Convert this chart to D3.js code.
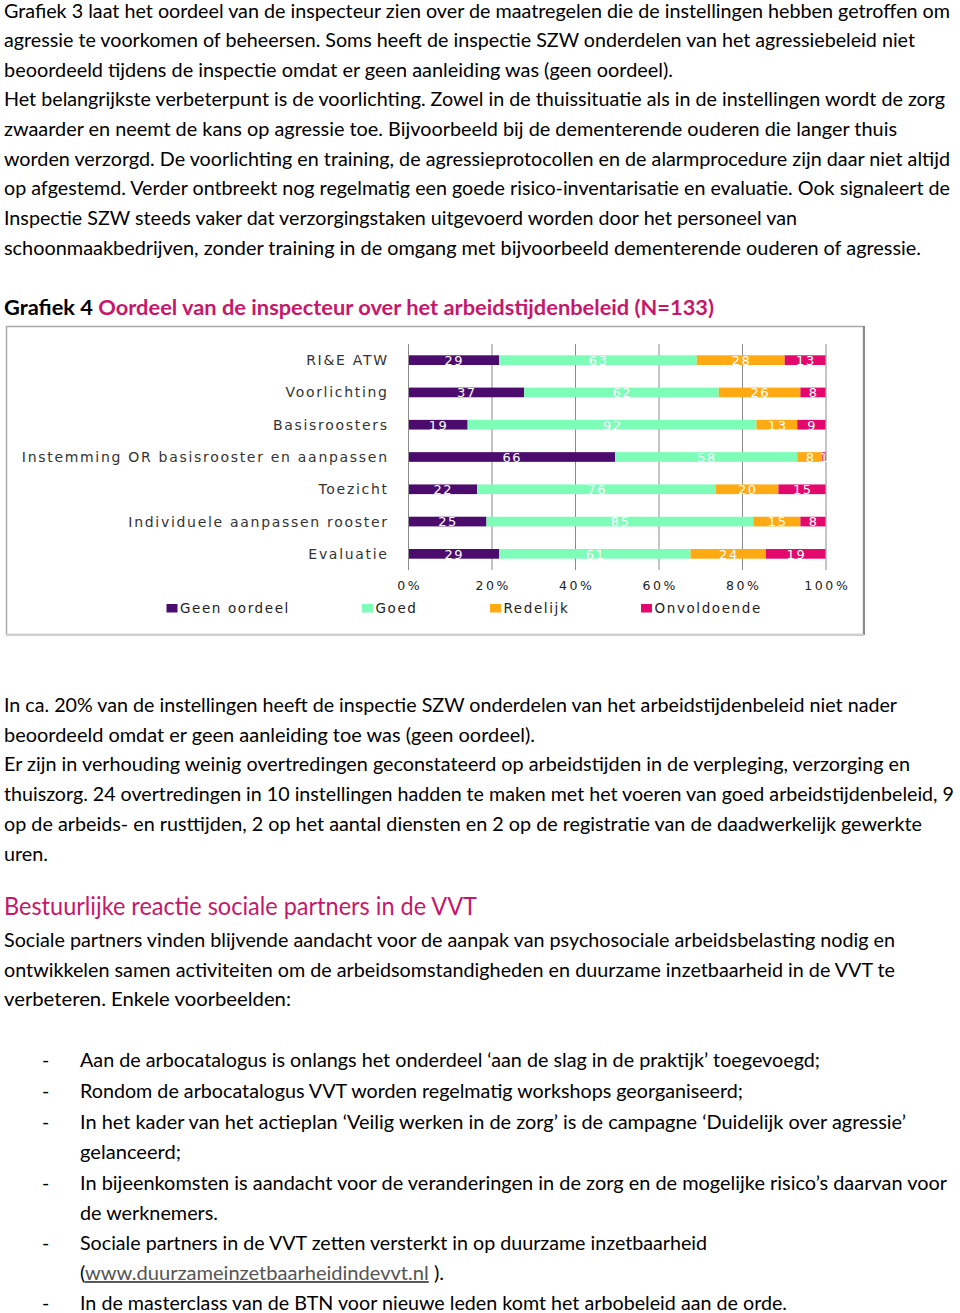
<!DOCTYPE html>
<html>
<head>
<meta charset="utf-8">
<script src="https://cdn.jsdelivr.net/npm/d3@7"></script>
<style>
  html, body { margin: 0; padding: 0; background: #fff; }
  svg { display: block; }
</style>
</head>
<body>
<script>
// ---------------- Chart data ----------------
const categories = [
  "RI&E ATW",
  "Voorlichting",
  "Basisroosters",
  "Instemming OR basisrooster en aanpassen",
  "Toezicht",
  "Individuele aanpassen rooster",
  "Evaluatie"
];
const seriesNames = ["Geen oordeel", "Goed", "Redelijk", "Onvoldoende"];
const geenOordeel = [29, 37, 19, 66, 22, 25, 29];
const goed        = [63, 62, 92, 58, 76, 85, 61];
const redelijk    = [28, 26, 13, 8, 20, 15, 24];
const onvoldoende = [13, 8, 9, 1, 15, 8, 19];
const tickValues  = [0, 0.2, 0.4, 0.6, 0.8, 1];

// ---------------- Document text ----------------
const para1 = [
  "Grafiek 3 laat het oordeel van de inspecteur zien over de maatregelen die de instellingen hebben getroffen om",
  "agressie te voorkomen of beheersen. Soms heeft de inspectie SZW onderdelen van het agressiebeleid niet",
  "beoordeeld tijdens de inspectie omdat er geen aanleiding was (geen oordeel).",
  "Het belangrijkste verbeterpunt is de voorlichting. Zowel in de thuissituatie als in de instellingen wordt de zorg",
  "zwaarder en neemt de kans op agressie toe. Bijvoorbeeld bij de dementerende ouderen die langer thuis",
  "worden verzorgd. De voorlichting en training, de agressieprotocollen en de alarmprocedure zijn daar niet altijd",
  "op afgestemd. Verder ontbreekt nog regelmatig een goede risico-inventarisatie en evaluatie. Ook signaleert de",
  "Inspectie SZW steeds vaker dat verzorgingstaken uitgevoerd worden door het personeel van",
  "schoonmaakbedrijven, zonder training in de omgang met bijvoorbeeld dementerende ouderen of agressie."
];
const titlePrefix = "Grafiek 4 ";
const titleText = "Oordeel van de inspecteur over het arbeidstijdenbeleid (N=133)";
const para2 = [
  "In ca. 20% van de instellingen heeft de inspectie SZW onderdelen van het arbeidstijdenbeleid niet nader",
  "beoordeeld omdat er geen aanleiding toe was (geen oordeel).",
  "Er zijn in verhouding weinig overtredingen geconstateerd op arbeidstijden in de verpleging, verzorging en",
  "thuiszorg. 24 overtredingen in 10 instellingen hadden te maken met het voeren van goed arbeidstijdenbeleid, 9",
  "op de arbeids- en rusttijden, 2 op het aantal diensten en 2 op de registratie van de daadwerkelijk gewerkte",
  "uren."
];
const heading = "Bestuurlijke reactie sociale partners in de VVT";
const para3 = [
  "Sociale partners vinden blijvende aandacht voor de aanpak van psychosociale arbeidsbelasting nodig en",
  "ontwikkelen samen activiteiten om de arbeidsomstandigheden en duurzame inzetbaarheid in de VVT te",
  "verbeteren.  Enkele voorbeelden:"
];
// list lines: [bullet?, text]
const listLines = [
  [true,  "Aan de arbocatalogus is onlangs het onderdeel ‘aan de slag in de praktijk’ toegevoegd;"],
  [true,  "Rondom de arbocatalogus VVT worden regelmatig workshops georganiseerd;"],
  [true,  "In het kader van het actieplan ‘Veilig werken in de zorg’ is de campagne  ‘Duidelijk over agressie’"],
  [false, "gelanceerd;"],
  [true,  "In bijeenkomsten is aandacht voor de veranderingen in de zorg en de mogelijke risico’s  daarvan voor"],
  [false, "de werknemers."],
  [true,  "Sociale partners in de VVT zetten versterkt in op duurzame inzetbaarheid"],
  [false, "LINK"],
  [true,  "In de masterclass van de BTN voor nieuwe leden komt het arbobeleid aan de orde."]
];
const linkText = "www.duurzameinzetbaarheidindevvt.nl";

// ---------------- Layout (positions / sizes) ----------------
const para1Ends = [950, 915, 673, 945, 897, 950, 950, 797, 921];
const para2Ends = [897, 535, 910, 954, 922, 48];
const para3Ends = [895, 895, 291];
const listEnds  = [820, 743, 906, 181, 947, 218, 707, 444, 787];

const bodyFont = "Lato, 'Open Sans', sans-serif";
const magenta = "#c8176b";

const svg = d3.select("body").append("svg")
  .attr("width", 960).attr("height", 1313)
  .attr("viewBox", "0 0 960 1313");

function textBlock(lines, ends, x0, y0, dy) {
  svg.append("g").selectAll("text").data(lines).join("text")
    .attr("x", x0)
    .attr("y", (d, i) => y0 + i * dy)
    .attr("font-family", bodyFont)
    .attr("font-size", 19.5)
    .attr("fill", "#000")
    .attr("textLength", (d, i) => ends[i] - x0)
    .attr("lengthAdjust", "spacingAndGlyphs")
    .text(d => d);
}

textBlock(para1, para1Ends, 4, 17.5, 29.65);

// Title
const title = svg.append("text")
  .attr("x", 4).attr("y", 315)
  .attr("font-family", bodyFont).attr("font-size", 21).attr("font-weight", 700)
  .attr("textLength", 710).attr("lengthAdjust", "spacingAndGlyphs");
title.append("tspan").attr("fill", "#000").text(titlePrefix);
title.append("tspan").attr("fill", magenta).text(titleText);

textBlock(para2, para2Ends, 4, 712, 29.7);

svg.append("text")
  .attr("x", 4).attr("y", 915)
  .attr("font-family", bodyFont).attr("font-size", 25)
  .attr("fill", magenta)
  .attr("textLength", 473).attr("lengthAdjust", "spacingAndGlyphs")
  .text(heading);

textBlock(para3, para3Ends, 4, 947, 29.7);

// list
const listY = [1067, 1098, 1129, 1159, 1190, 1220, 1250, 1280, 1310];
const lg = svg.append("g");
listLines.forEach((l, i) => {
  if (l[0]) {
    lg.append("text").attr("x", 42).attr("y", listY[i])
      .attr("font-family", bodyFont).attr("font-size", 19.5).attr("fill", "#000")
      .text("-");
  }
  const t = lg.append("text").attr("x", 80).attr("y", listY[i])
    .attr("font-family", bodyFont).attr("font-size", 19.5).attr("fill", "#000")
    .attr("textLength", listEnds[i] - 80).attr("lengthAdjust", "spacingAndGlyphs");
  if (l[1] === "LINK") {
    t.append("tspan").text("(");
    t.append("tspan").attr("fill", "#555").attr("text-decoration", "underline").text(linkText);
    t.append("tspan").text(" ).");
  } else {
    t.text(l[1]);
  }
});

// ---------------- Chart ----------------
const frame = { x: 6, y: 326, w: 857, h: 308 };
svg.append("rect")
  .attr("x", frame.x + 0.5).attr("y", frame.y + 0.5)
  .attr("width", frame.w).attr("height", frame.h)
  .attr("fill", "#fff").attr("stroke", "#a8a8a8").attr("stroke-width", 1.5);
svg.append("line")
  .attr("x1", frame.x + frame.w + 1).attr("x2", frame.x + frame.w + 1)
  .attr("y1", frame.y).attr("y2", frame.y + frame.h + 1)
  .attr("stroke", "#8a8a8a").attr("stroke-width", 2);
svg.append("line")
  .attr("x1", frame.x).attr("x2", frame.x + frame.w + 1)
  .attr("y1", frame.y + frame.h + 1).attr("y2", frame.y + frame.h + 1)
  .attr("stroke", "#cfcfcf").attr("stroke-width", 2);

const plot = { left: 408, right: 825.5, top: 344, bottom: 570 };
const x = d3.scaleLinear().domain([0, 1]).range([plot.left, plot.right]);
const y = d3.scaleBand().domain(categories).range([plot.top, plot.bottom])
  .paddingInner(0.7).paddingOuter(0.35);

const colors = d3.scaleOrdinal().domain(seriesNames)
  .range(["#4b0c6e", "#7dfdb8", "#ffa913", "#e2086c"]);

const rows = categories.map((c, i) => ({
  cat: c,
  "Geen oordeel": geenOordeel[i],
  "Goed": goed[i],
  "Redelijk": redelijk[i],
  "Onvoldoende": onvoldoende[i]
}));
const stacked = d3.stack().keys(seriesNames).offset(d3.stackOffsetExpand)(rows);

// gridlines
svg.append("g")
  .attr("transform", `translate(0,${plot.bottom})`)
  .call(d3.axisBottom(x).tickValues(tickValues).tickSize(-(plot.bottom - plot.top)).tickFormat(""))
  .call(g => g.select(".domain").remove())
  .call(g => g.selectAll("line").attr("stroke", "#8a8a8a").attr("stroke-width", 1));

// bars
const sg = svg.append("g").selectAll("g").data(stacked).join("g")
  .attr("fill", d => colors(d.key));
sg.selectAll("rect").data(d => d.map(v => ({ v, key: d.key }))).join("rect")
  .attr("x", d => x(d.v[0]))
  .attr("y", d => y(d.v.data.cat))
  .attr("width", d => x(d.v[1]) - x(d.v[0]))
  .attr("height", y.bandwidth());

// value labels
const labelLS = 1.6;
sg.selectAll("text").data(d => d.map(v => ({ v, key: d.key }))).join("text")
  .attr("x", d => (x(d.v[0]) + x(d.v[1])) / 2 + labelLS / 2)
  .attr("y", d => y(d.v.data.cat) + y.bandwidth() / 2 + 4.8)
  .attr("text-anchor", "middle")
  .attr("font-family", "'DejaVu Sans', Verdana, sans-serif")
  .attr("font-size", 13)
  .attr("letter-spacing", labelLS)
  .attr("fill", "#fff")
  .text(d => d.v.data[d.key]);

// category axis
const catLS = 1.7;
svg.append("g")
  .attr("transform", `translate(${plot.left},0)`)
  .call(d3.axisLeft(y).tickSize(0).tickPadding(21 - catLS))
  .call(g => g.select(".domain").attr("stroke", "#8a8a8a").attr("d", `M0.5,${plot.top}V${plot.bottom}`))
  .call(g => g.selectAll("text")
    .attr("font-family", "'DejaVu Sans', Verdana, sans-serif")
    .attr("font-size", 14)
    .attr("letter-spacing", catLS)
    .attr("fill", "#333")
    .attr("dy", "0.36em"));

// value axis labels
const tickLS = 2.6;
svg.append("g")
  .attr("transform", `translate(${tickLS / 2},${plot.bottom})`)
  .call(d3.axisBottom(x).tickValues(tickValues).tickSize(0).tickPadding(11).tickFormat(d3.format(".0%")))
  .call(g => g.select(".domain").remove())
  .call(g => g.selectAll("text")
    .attr("font-family", "'DejaVu Sans', Verdana, sans-serif")
    .attr("font-size", 12.5)
    .attr("letter-spacing", tickLS)
    .attr("fill", "#222"));

// legend
const legendX = [166.5, 362, 490, 641];
const legend = svg.append("g").selectAll("g").data(seriesNames).join("g")
  .attr("transform", (d, i) => `translate(${legendX[i]},604)`);
legend.append("rect").attr("width", 11).attr("height", 8.5).attr("fill", d => colors(d));
legend.append("text")
  .attr("x", 13.5).attr("y", 9)
  .attr("font-family", "'DejaVu Sans', Verdana, sans-serif")
  .attr("font-size", 13.5)
  .attr("letter-spacing", 1.6)
  .attr("fill", "#222")
  .text(d => d);
</script>
</body>
</html>
